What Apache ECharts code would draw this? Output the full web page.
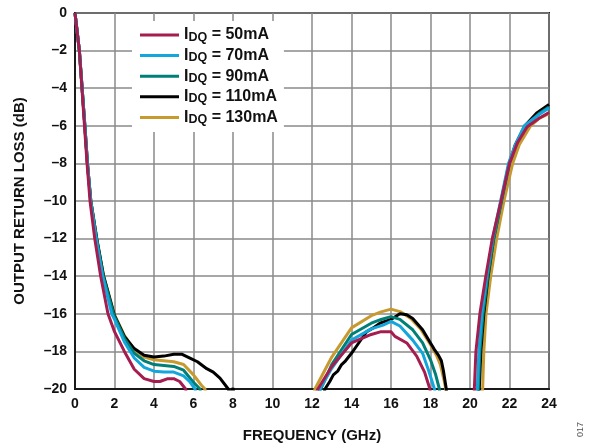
<!DOCTYPE html>
<html>
<head>
<meta charset="utf-8">
<script src="https://cdn.jsdelivr.net/npm/echarts@6/dist/echarts.min.js"></script>
<style>html,body{margin:0;padding:0;background:#fff}#c{width:595px;height:448px}</style>
</head>
<body>
<div id="c"></div>
<script>
const xTicks = [0, 2, 4, 6, 8, 10, 12, 14, 16, 18, 20, 22, 24];
const yTicks = [0, -2, -4, -6, -8, -10, -12, -14, -16, -18, -20];
const currents = ['50mA', '70mA', '90mA', '110mA', '130mA'];
const colors = ['#A51D4F', '#12A6DC', '#007F77', '#000000', '#C79A2F'];

const idq50 = [[0,0],[0.22,-2],[0.35,-4],[0.48,-6],[0.61,-8],[0.76,-10],[1.0,-12],[1.3,-14],[1.67,-16],[2.0,-16.95],[2.5,-18.0],[3.0,-18.95],[3.5,-19.45],[4.0,-19.6],[4.3,-19.6],[4.7,-19.45],[5.0,-19.45],[5.3,-19.6],[5.6,-20],[5.7,-20.6],
  null,[12.1,-20.6],[12.3,-20],[13,-18.8],[14,-17.55],[15,-17.1],[15.5,-16.95],[16,-16.95],[16.2,-17.2],[16.8,-17.55],[17.3,-18.25],[17.7,-19.1],[17.97,-20],[18.05,-20.6],
  null,[20.2,-20.6],[20.22,-20],[20.3,-18],[20.5,-16],[20.8,-14],[21.13,-12],[21.57,-10],[22.0,-8],[22.4,-6.9],[22.9,-6.05],[23.5,-5.6],[24,-5.3]];
const idq70 = [[0,0],[0.22,-2],[0.36,-4],[0.5,-6],[0.63,-8],[0.79,-10],[1.07,-12],[1.4,-14],[1.86,-16],[2.0,-16.3],[2.5,-17.5],[3.0,-18.35],[3.5,-18.85],[4.0,-19.05],[4.5,-19.1],[5.0,-19.1],[5.5,-19.3],[5.8,-19.6],[6.08,-20],[6.15,-20.6],
  null,[12.2,-20.6],[12.4,-20],[13,-18.9],[14,-17.4],[15,-16.8],[15.6,-16.6],[16,-16.4],[16.45,-16.65],[17.1,-17.4],[17.6,-18.1],[17.9,-19.0],[18.2,-20],[18.3,-20.6],
  null,[20.3,-20.6],[20.37,-20],[20.45,-18],[20.6,-16],[20.85,-14],[21.15,-12],[21.55,-10],[21.95,-8],[22.3,-7],[22.75,-6],[23.5,-5.4],[24,-5.05]];
const idq90 = [[0,0],[0.22,-2],[0.36,-4],[0.5,-6],[0.63,-8],[0.8,-10],[1.09,-12],[1.43,-14],[1.95,-16],[2.0,-16.15],[2.5,-17.3],[3.0,-18.1],[3.5,-18.5],[4.0,-18.7],[4.5,-18.75],[5.0,-18.8],[5.5,-19.0],[6.0,-19.65],[6.33,-20],[6.4,-20.6],
  null,[12.2,-20.6],[12.45,-20],[13,-18.7],[14,-17.1],[15,-16.5],[15.5,-16.3],[16,-16.15],[16.45,-16.3],[17.1,-16.85],[17.6,-17.55],[18,-18.45],[18.25,-19.2],[18.45,-20],[18.5,-20.6],
  null,[20.35,-20.6],[20.42,-20],[20.5,-18],[20.66,-16],[20.9,-14],[21.2,-12],[21.6,-10],[22.0,-8],[22.35,-7],[22.8,-6],[23.5,-5.35],[24,-5.0]];
const idq110 = [[0,0],[0.22,-2],[0.36,-4],[0.5,-6],[0.63,-8],[0.8,-10],[1.1,-12],[1.45,-14],[2.0,-16.1],[2.5,-17.2],[3.0,-17.85],[3.5,-18.2],[4.0,-18.3],[4.5,-18.25],[5.0,-18.15],[5.4,-18.15],[5.82,-18.36],[6.2,-18.55],[6.67,-18.92],[7.0,-19.1],[7.34,-19.42],[7.76,-20],[7.85,-20.3],[8.0,-19.95],[8.1,-20.6],
  null,[12.5,-20.6],[12.66,-20],[12.9,-19.6],[13.08,-19.25],[13.3,-19.05],[13.5,-18.7],[13.7,-18.5],[14,-18.1],[14.4,-17.5],[14.77,-16.95],[15.1,-16.75],[15.44,-16.5],[16,-16.3],[16.45,-16.0],[16.8,-16.05],[17.1,-16.25],[17.6,-16.85],[18,-17.55],[18.2,-17.9],[18.4,-18.2],[18.55,-18.5],[18.65,-19.0],[18.8,-20],[18.85,-20.6],
  null,[20.4,-20.6],[20.47,-20],[20.55,-18],[20.7,-16],[20.92,-14],[21.2,-12],[21.58,-10],[21.98,-8],[22.3,-7],[22.78,-6],[23.4,-5.3],[24,-4.87]];
const idq130 = [[0,0],[0.22,-2],[0.36,-4],[0.5,-6],[0.63,-8],[0.8,-10],[1.1,-12],[1.45,-14],[2.0,-16.05],[2.5,-17.15],[3.0,-17.9],[3.5,-18.3],[4.0,-18.45],[4.5,-18.5],[5.0,-18.55],[5.5,-18.7],[6.0,-19.25],[6.4,-19.8],[6.58,-20],[6.65,-20.6],
  null,[12.0,-20.6],[12.15,-20],[13,-18.3],[14,-16.75],[15,-16.1],[15.5,-15.9],[16,-15.75],[16.5,-15.9],[17,-16.25],[17.5,-16.8],[18,-17.65],[18.3,-18.2],[18.5,-18.7],[18.7,-19.6],[18.77,-20],[18.8,-20.6],
  null,[20.55,-20.6],[20.64,-20],[20.7,-18],[20.81,-16],[21.05,-14],[21.35,-12],[21.72,-10],[22.16,-8],[22.5,-7],[23.07,-6],[23.5,-5.6],[24,-5.35]];

const seriesData = [idq50, idq70, idq90, idq110, idq130];
const drawOrder = [4, 3, 2, 1, 0];
const FONT = '"Liberation Sans", Arial, sans-serif';
const minus = v => (v < 0 ? '\u2013' + Math.abs(v) : String(v));

const series = drawOrder.map(i => ({
  name: 'IDQ = ' + currents[i],
  type: 'line',
  data: seriesData[i].map(p => (p === null ? [null, null] : p)),
  connectNulls: false,
  showSymbol: false,
  symbol: 'none',
  clip: true,
  lineStyle: { color: colors[i], width: 3 },
  itemStyle: { color: colors[i] },
  z: 3 + (4 - i)
}));

const chart = echarts.init(document.getElementById('c'), null, { renderer: 'canvas' });
chart.setOption({
  animation: false,
  backgroundColor: '#fff',
  grid: { left: 75, right: 46, top: 13, bottom: 57, show: true, borderColor: '#1a1a1a', borderWidth: 2, backgroundColor: 'transparent' },
  legend: {
    data: currents.map(c => 'IDQ = ' + c),
    orient: 'vertical',
    left: 132, top: 21,
    padding: [6, 6, 6, 8],
    backgroundColor: '#fff',
    icon: 'rect',
    itemWidth: 39, itemHeight: 3,
    itemGap: 4,
    formatter: n => '{a|I}{b|DQ}{a|' + n.slice(3) + '}',
    textStyle: {
      fontFamily: FONT, fontWeight: 'bold', fontSize: 16, color: '#111',
      rich: {
        a: { fontFamily: FONT, fontWeight: 'bold', fontSize: 16, color: '#111', lineHeight: 17.2 },
        b: { fontFamily: FONT, fontWeight: 'bold', fontSize: 12.5, color: '#111', lineHeight: 10, verticalAlign: 'bottom' }
      }
    }
  },
  xAxis: {
    type: 'value', min: 0, max: 24, interval: 2,
    name: 'FREQUENCY (GHz)', nameLocation: 'middle', nameGap: 39,
    nameTextStyle: { fontFamily: FONT, fontWeight: 'bold', fontSize: 15, color: '#111' },
    axisLine: { show: true, onZero: false, lineStyle: { color: '#1a1a1a', width: 2 } },
    axisTick: { show: false },
    axisLabel: { margin: 8, fontFamily: FONT, fontWeight: 'bold', fontSize: 14, color: '#111', formatter: v => (xTicks.includes(v) ? String(v) : '') },
    splitLine: { show: true, lineStyle: { color: '#8a8a8a', width: 1.5 } }
  },
  yAxis: {
    type: 'value', min: -20, max: 0, interval: 2,
    name: 'OUTPUT RETURN LOSS (dB)', nameLocation: 'middle', nameGap: 48,
    nameTextStyle: { fontFamily: FONT, fontWeight: 'bold', fontSize: 15, color: '#111' },
    axisLine: { show: true, lineStyle: { color: '#1a1a1a', width: 2 } },
    axisTick: { show: false },
    axisLabel: { margin: 8, fontFamily: FONT, fontWeight: 'bold', fontSize: 14, color: '#111', formatter: v => (yTicks.includes(v) ? minus(v) : '') },
    splitLine: { show: true, lineStyle: { color: '#8a8a8a', width: 1.5 } }
  },
  graphic: [{
    type: 'text', left: 576, top: 422, rotation: Math.PI / 2,
    style: { text: '017', fontFamily: FONT, fontSize: 9, fill: '#555' }
  }],
  series: series
});
</script>
</body>
</html>
